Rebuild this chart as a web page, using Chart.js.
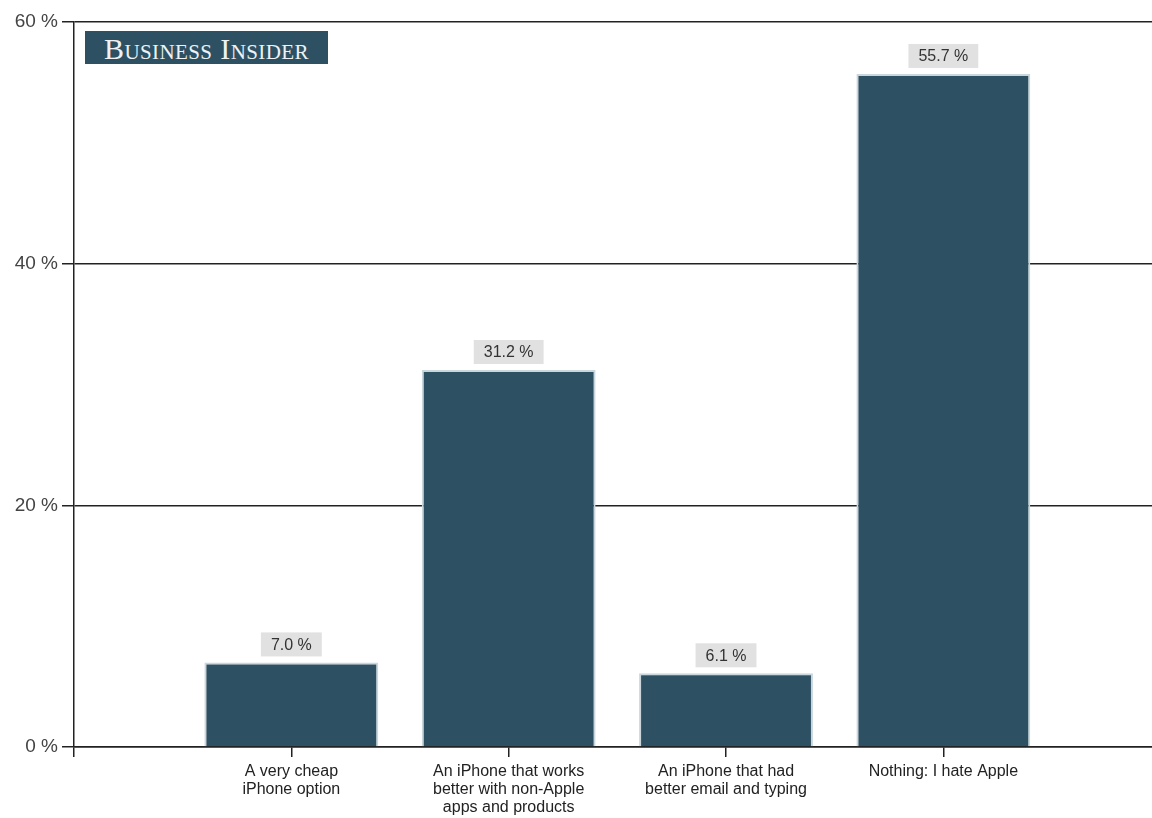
<!DOCTYPE html>
<html>
<head>
<meta charset="utf-8">
<script src="https://cdn.jsdelivr.net/npm/chart.js@4.4.0/dist/chart.umd.min.js"></script>
<style>
  body { margin: 0; background: #fff; overflow: hidden; }
  #wrap { position: relative; width: 1152px; height: 818px; }
  #logo {
    position: absolute; left: 85px; top: 31px; width: 243px; height: 33px;
    background: #2d5062; color: #eef2f4;
    font-family: "Liberation Serif", "DejaVu Serif", serif; font-size: 30px;
    font-variant: small-caps; line-height: 35px; text-align: center;
    letter-spacing: 0.4px; overflow: hidden; white-space: nowrap;
  }
</style>
</head>
<body>
<div id="wrap">
  <canvas id="chart" width="1152" height="818"></canvas>
  <div id="logo">Business Insider</div>
</div>
<script>
const categories = [
    ["A very cheap", "iPhone option"],
    ["An iPhone that works", "better with non-Apple", "apps and products"],
    ["An iPhone that had", "better email and typing"],
    ["Nothing: I hate Apple"]
]
const values = [7.0, 31.2, 6.1, 55.7]
const yTicks = [0, 20, 40, 60]

const barColor = "#2d5062"
const lineColor = "#222"

Chart.defaults.font.family = "'Liberation Sans', Arial, sans-serif"

// grey value boxes above each bar
const valueBoxes = {
    id: "valueBoxes",
    afterDatasetsDraw(chart){
        const ctx = chart.ctx
        const meta = chart.getDatasetMeta(0)
        ctx.save()
        ctx.font = "16px 'Liberation Sans', Arial, sans-serif"
        ctx.textAlign = "center"
        ctx.textBaseline = "middle"
        meta.data.forEach((bar, i) => {
            const txt = values[i].toFixed(1) + " %"
            const w = ctx.measureText(txt).width + 20
            const h = 24
            const bottom = bar.y - 6
            ctx.fillStyle = "#e1e1e1"
            ctx.fillRect(bar.x - w / 2, bottom - h, w, h)
            ctx.fillStyle = "#333"
            ctx.fillText(txt, bar.x, bottom - h / 2 + 1)
        })
        ctx.restore()
    }
}

const ctx = document.getElementById("chart").getContext("2d")
const chart = new Chart(ctx, {
    type: "bar",
    data: {
        datasets: [{
            data: values.map((v, i) => ({x: i + 1, y: v})),
            backgroundColor: barColor,
            borderColor: "#c9d6dc",
            borderWidth: 2,
            barPercentage: 1,
            categoryPercentage: 0.8
        }]
    },
    options: {
        responsive: false,
        animation: false,
        layout: {padding: {top: 22, right: 0, left: 0, bottom: 0}},
        plugins: {legend: {display: false}, tooltip: {enabled: false}},
        scales: {
            x: {
                type: "linear",
                offset: false,
                min: 0,
                max: 4.96,
                afterBuildTicks(scale){
                    scale.ticks = [0, 1, 2, 3, 4].map(v => ({value: v}))
                },
                afterFit(scale){ scale.height = 71 },
                grid: {offset: false, drawOnChartArea: false, drawTicks: true, tickLength: 10, color: lineColor, lineWidth: 1.5},
                border: {display: true, color: lineColor, width: 1.5},
                ticks: {
                    autoSkip: false,
                    maxRotation: 0,
                    padding: 6,
                    color: "#222",
                    font: {size: 16, lineHeight: 1.12},
                    callback: v => v === 0 ? "" : categories[v - 1]
                }
            },
            y: {
                min: 0,
                max: 60,
                afterBuildTicks(scale){
                    scale.ticks = yTicks.map(v => ({value: v}))
                },
                afterFit(scale){ scale.width = 74 },
                grid: {color: lineColor, lineWidth: 1.5, drawTicks: true, tickLength: 12},
                border: {display: true, color: lineColor, width: 1.5},
                ticks: {
                    padding: 4,
                    color: "#444",
                    font: {size: 19},
                    callback: v => v + " %"
                }
            }
        }
    },
    plugins: [valueBoxes]
})
</script>
</body>
</html>
